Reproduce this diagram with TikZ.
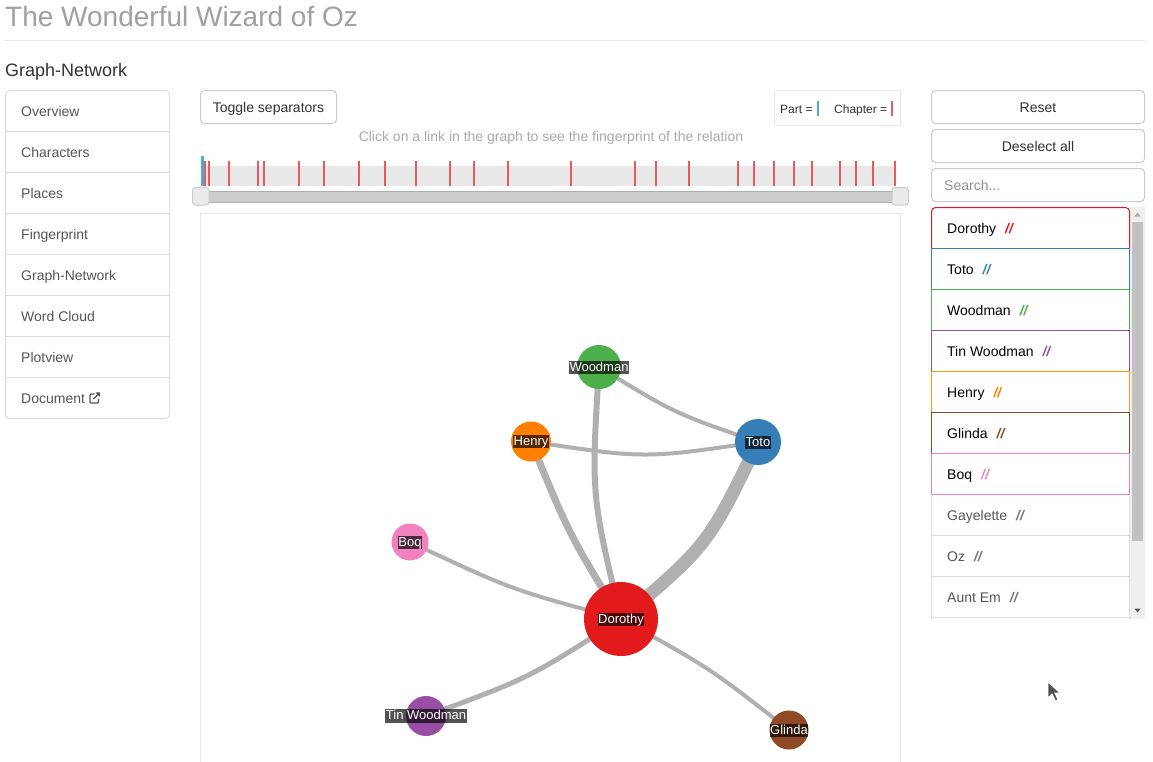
\documentclass[tikz,border=0pt]{standalone}
\usepackage{fontspec}
\setmainfont{Liberation Sans}
\usetikzlibrary{calc}
\pgfdeclarelayer{bglow}
\pgfdeclarelayer{background}
\pgfsetlayers{bglow,background,main}
\definecolor{cDor}{HTML}{E31A1C}
\definecolor{cToto}{HTML}{377EB8}
\definecolor{cWood}{HTML}{4DAF4A}
\definecolor{cTin}{HTML}{984EA3}
\definecolor{cHen}{HTML}{FF7F00}
\definecolor{cGli}{HTML}{8E4A25}
\definecolor{cBoq}{HTML}{F282BE}
\definecolor{edgegray}{HTML}{B0B0B0}
\definecolor{tickred}{HTML}{E85A5C}
\definecolor{tickblue}{HTML}{4AAED4}
\definecolor{gtitle}{HTML}{A0A0A0}
\definecolor{gdark}{HTML}{333333}
\definecolor{gmid}{HTML}{555555}
\definecolor{ghint}{HTML}{AAAAAA}
\definecolor{gborder}{HTML}{CCCCCC}
\definecolor{glight}{HTML}{DDDDDD}
\definecolor{gfaint}{HTML}{E8E8E8}
\newcommand{\setfs}[1]{\fontsize{#1}{#1}\selectfont}
\tikzset{
  txt/.style={inner sep=0pt, anchor=base west},
  ctxt/.style={inner sep=0pt, anchor=base},
  menutxt/.style={txt, text=gmid, font=\setfs{14pt}},
  btntxt/.style={ctxt, text=gdark, font=\setfs{14pt}},
  btnbox/.style={draw=gborder, line width=1pt, rounded corners=4pt},
  listtxt/.style={txt, text=black, font=\setfs{14pt}},
  listgray/.style={txt, text=gmid, font=\setfs{14pt}},
  gnode/.style={circle, inner sep=0pt, draw=none},
  glabel/.style={fill=black, fill opacity=0.68, text opacity=1, text=white,
    font=\setfs{13pt}, inner xsep=0.5pt, inner ysep=0.4pt, text height=9.8pt, text depth=2.8pt},
  edge/.style={draw=edgegray, line width=#1},
  chaptick/.style={draw=tickred, line width=2pt},
}
\newcommand{\slsh}[1]{\hspace{9pt}{\color{#1}\bfseries\itshape //}}
\begin{document}
\begin{tikzpicture}[x=1pt,y=-1pt]
\useasboundingbox (0,0) rectangle (1153,761);
\begin{pgfonlayer}{bglow}
\fill[white] (0,0) rectangle (1153,761);
\end{pgfonlayer}

% title
\node[txt, text=gtitle, font=\setfs{28pt}] (title) at (5,26) {The Wonderful Wizard of Oz};
\draw[draw=gfaint, line width=1pt] (5,40.5) -- (1145,40.5);
\node[txt, text=gdark, font=\setfs{18pt}] (sub) at (5,76.5) {Graph-Network};

% left menu
\draw[draw=glight, line width=1pt, rounded corners=4pt] (5.5,90.5) rectangle (169.5,418.5);
\foreach \yy in {131.5,172.5,213.5,254.5,295.5,336.5,377.5}
  \draw[draw=glight, line width=1pt] (5.5,\yy) -- (169.5,\yy);
\node[menutxt] (m1) at (21,116.3) {Overview};
\node[menutxt] (m2) at (21,157.3) {Characters};
\node[menutxt] (m3) at (21,198.3) {Places};
\node[menutxt] (m4) at (21,239.3) {Fingerprint};
\node[menutxt] (m5) at (21,280.3) {Graph-Network};
\node[menutxt] (m6) at (21,321.3) {Word Cloud};
\node[menutxt] (m7) at (21,362.3) {Plotview};
\node[menutxt] (m8) at (21,403.3) {Document};
% external link icon
\draw[draw=gmid, line width=1.2pt, rounded corners=1pt] (94.5,394) -- (90,394) -- (90,403) -- (98.5,403) -- (98.5,398.5);
\draw[draw=gmid, line width=1.3pt] (93.5,399) -- (98.5,394);
\fill[gmid] (95.5,392.3) -- (100.2,392.3) -- (100.2,397) -- cycle;

% toggle button
\draw[btnbox] (200.5,90.5) rectangle (336.5,123.5);
\node[btntxt] (tog) at (268.5,112) {Toggle separators};

% legend
\draw[draw=gfaint, line width=1pt] (774.5,90.5) rectangle (900.5,125.5);
\node[txt, text=gdark, font=\setfs{12pt}] (lp) at (780,113) {Part =};
\draw[draw=tickblue, line width=2pt] (818,101) -- (818,116);
\node[txt, text=gdark, font=\setfs{12pt}] (lc) at (834,113) {Chapter =};
\draw[draw=tickred, line width=2pt] (892,101) -- (892,116);

% hint
\node[ctxt, text=ghint, font=\setfs{14pt}] (hint) at (551,141) {Click on a link in the graph to see the fingerprint of the relation};

% timeline
\fill[gfaint] (201,166) rectangle (894,186);
\foreach \xx in {204.7,209,229,258,264,298.7,323.7,358.7,384.7,416.3,450,474.3,508.3,571,635,656,689.3,737.7,754,773.7,794.3,812.3,839.7,855.7,872.7,894.7}
  \draw[chaptick] (\xx,161) -- (\xx,186);
\draw[draw=tickblue, line width=3pt] (202.5,156) -- (202.5,186);
% slider
\draw[draw=gborder!85!black, fill=gborder, line width=1pt] (200,191.5) rectangle (900,202);
\draw[draw=gborder, fill=gfaint!90!white, line width=1pt, rounded corners=3pt] (192.5,187.5) rectangle (209,205);
\draw[draw=gborder, fill=gfaint!90!white, line width=1pt, rounded corners=3pt] (892,187.5) rectangle (908.5,205);

% graph panel
\draw[draw=gfaint, line width=1pt] (200.5,762) -- (200.5,213.5) -- (900.5,213.5) -- (900.5,762);

% graph nodes
\node[gnode, fill=cWood, minimum size=44pt] (wood) at (599,367) {};
\node[gnode, fill=cHen, minimum size=40pt] (hen) at (531,441.5) {};
\node[gnode, fill=cToto, minimum size=46pt] (toto) at (758,442) {};
\node[gnode, fill=cBoq, minimum size=37pt] (boq) at (410,542) {};
\node[gnode, fill=cDor, minimum size=74pt] (dor) at (621,619) {};
\node[gnode, fill=cTin, minimum size=40pt] (tin) at (426,716) {};
\node[gnode, fill=cGli, minimum size=39pt] (gli) at (789,730) {};

% edges
\begin{pgfonlayer}{background}
\draw[edge=4pt] (wood.center) .. controls ($($(wood.center)!0.5!(toto.center)$)!0.11!-90:(toto.center)$) .. (toto.center);
\draw[edge=4pt] (hen.center) .. controls ($($(hen.center)!0.5!(toto.center)$)!0.15!-90:(toto.center)$) .. (toto.center);
\draw[edge=6pt] (wood.center) .. controls ($($(wood.center)!0.5!(dor.center)$)!0.15!-90:(dor.center)$) .. (dor.center);
\draw[edge=7pt] (hen.center) .. controls ($($(hen.center)!0.5!(dor.center)$)!0.08!-90:(dor.center)$) .. (dor.center);
\draw[edge=13pt] (toto.center) .. controls ($($(toto.center)!0.5!(dor.center)$)!0.21!90:(dor.center)$) .. (dor.center);
\draw[edge=4pt] (boq.center) .. controls ($($(boq.center)!0.5!(dor.center)$)!0.09!-90:(dor.center)$) .. (dor.center);
\draw[edge=5pt] (dor.center) .. controls ($($(dor.center)!0.5!(tin.center)$)!0.11!90:(tin.center)$) .. (tin.center);
\draw[edge=4pt] (dor.center) .. controls ($($(dor.center)!0.5!(gli.center)$)!0.08!90:(gli.center)$) .. (gli.center);
\end{pgfonlayer}

% node labels
\node[glabel] (woodl) at (599,367.5) {Woodman};
\node[glabel] (henl) at (531,441.5) {Henry};
\node[glabel] (totol) at (758,442.5) {Toto};
\node[glabel] (boql) at (410,542.5) {Boq};
\node[glabel] (dorl) at (621,619.5) {Dorothy};
\node[glabel] (tinl) at (426,716) {Tin Woodman};
\node[glabel] (glil) at (789,730.5) {Glinda};

% right column
\draw[btnbox] (931.5,90.5) rectangle (1144.5,123.5);
\node[btntxt] (reset) at (1038,112) {Reset};
\draw[btnbox] (931.5,129.5) rectangle (1144.5,162.5);
\node[btntxt] (desel) at (1038,151) {Deselect all};
\draw[btnbox] (931.5,168.5) rectangle (1144.5,201.5);
\node[txt, text=ghint!85!black, font=\setfs{14pt}] (search) at (944,190) {Search...};

% scrollbar
\fill[gfaint!70!white] (1130,207) rectangle (1145,619);
\fill[gborder!95!black] (1132,222) rectangle (1143.3,541);
\fill[ghint] (1134.5,216.5) -- (1140.5,216.5) -- (1137.5,212.5) -- cycle;
\fill[gmid] (1134.5,608.5) -- (1140.5,608.5) -- (1137.5,612.5) -- cycle;

% list: gray items
\draw[draw=glight, line width=1pt] (931.5,619) -- (931.5,494.5) -- (1129.5,494.5) -- (1129.5,619);
\foreach \yy in {535.5,576.5,617.5}
  \draw[draw=glight, line width=1pt] (931.5,\yy) -- (1129.5,\yy);
% list: coloured items
\draw[draw=cDor, line width=1pt] (931.5,248.5) [rounded corners=4pt] -- (931.5,207.5) -- (1129.5,207.5) [sharp corners] -- (1129.5,248.5);
\draw[draw=cToto, line width=1pt] (931.5,248.5) rectangle (1129.5,289.5);
\draw[draw=cWood, line width=1pt] (931.5,289.5) rectangle (1129.5,330.5);
\draw[draw=cTin, line width=1pt] (931.5,330.5) rectangle (1129.5,371.5);
\draw[draw=cHen!80!yellow, line width=1pt] (931.5,371.5) rectangle (1129.5,412.5);
\draw[draw=cGli, line width=1pt] (931.5,412.5) rectangle (1129.5,453.5);
\draw[draw=cBoq, line width=1pt] (931.5,453.5) rectangle (1129.5,494.5);

\node[listtxt] (l1) at (947,233.3) {Dorothy\slsh{cDor}};
\node[listtxt] (l2) at (947,274.3) {Toto\slsh{cToto}};
\node[listtxt] (l3) at (947,315.3) {Woodman\slsh{cWood}};
\node[listtxt] (l4) at (947,356.3) {Tin Woodman\slsh{cTin}};
\node[listtxt] (l5) at (947,397.3) {Henry\slsh{cHen}};
\node[listtxt] (l6) at (947,438.3) {Glinda\slsh{cGli}};
\node[listtxt] (l7) at (947,479.3) {Boq\slsh{cBoq}};
\node[listgray] (l8) at (947,520.3) {Gayelette\slsh{gmid!80!white}};
\node[listgray] (l9) at (947,561.3) {Oz\slsh{gmid!80!white}};
\node[listgray] (l10) at (947,602.3) {Aunt Em\slsh{gmid!80!white}};

% mouse cursor
\draw[fill=gdark!85!white, draw=white, line width=0.8pt, line join=miter] (1048,682) -- (1048,698) -- (1052,694) -- (1055.5,701) -- (1058,699.8) -- (1054.8,693) -- (1060,693) -- cycle;
\end{tikzpicture}
\end{document}
